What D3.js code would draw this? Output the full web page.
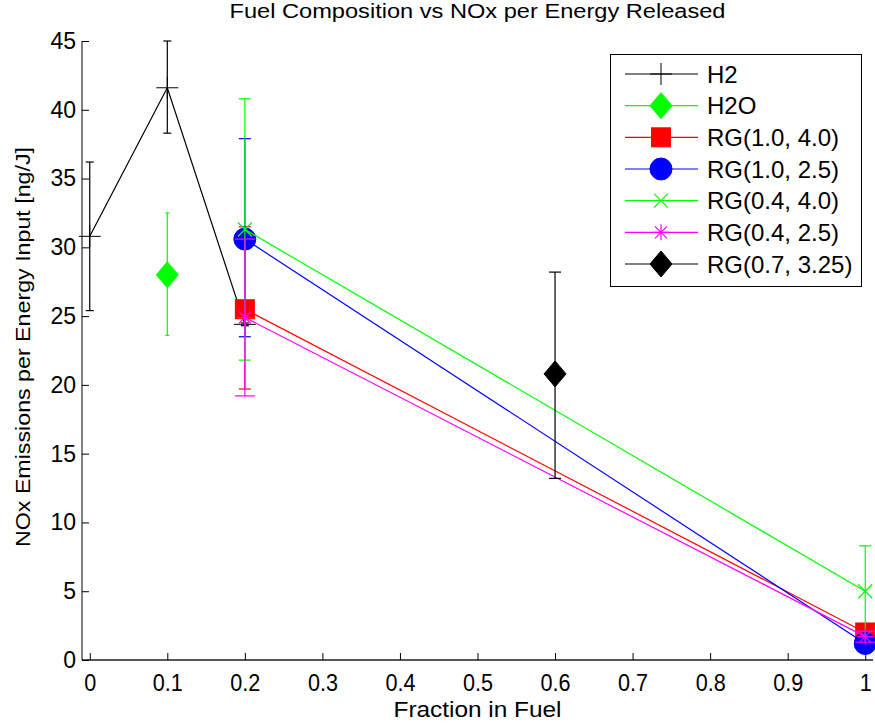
<!DOCTYPE html>
<html>
<head>
<meta charset="utf-8">
<script src="https://cdn.jsdelivr.net/npm/d3@7"></script>
<style>
  body { margin: 0; background: #fff; }
  svg { font-family: "Liberation Sans", Arial, sans-serif; }
</style>
</head>
<body>
<svg id="chart" width="875" height="725"></svg>
<script>
// Datos
const xTicks = [0, 0.1, 0.2, 0.3, 0.4, 0.5, 0.6, 0.7, 0.8, 0.9, 1];
const yTicks = [0, 5, 10, 15, 20, 25, 30, 35, 40, 45];

const h2X = [0, 0.1, 0.2];
const h2Y = [30.8, 41.6, 24.4];
const h2Lo = [25.4, 38.3, 24.3];
const h2Hi = [36.2, 45.0, 24.5];

const h2oX = [0.1];
const h2oY = [28.0];
const h2oLo = [23.6];
const h2oHi = [32.5];

const rg1040X = [0.2, 1];
const rg1040Y = [25.5, 2.0];
const rg1040Lo = [19.7, 1.5];
const rg1040Hi = [31.5, 2.6];

const rg1025X = [0.2, 1];
const rg1025Y = [30.6, 1.2];
const rg1025Lo = [23.5, 0.9];
const rg1025Hi = [37.9, 1.5];

const rg0440X = [0.2, 1];
const rg0440Y = [31.3, 5.0];
const rg0440Lo = [21.8, 1.7];
const rg0440Hi = [40.8, 8.3];

const rg0425X = [0.2, 1];
const rg0425Y = [24.9, 1.7];
const rg0425Lo = [19.2, 1.3];
const rg0425Hi = [30.6, 2.1];

const rg07325X = [0.6];
const rg07325Y = [20.8];
const rg07325Lo = [13.2];
const rg07325Hi = [28.2];

const seriesNames = ['H2', 'H2O', 'RG(1.0, 4.0)', 'RG(1.0, 2.5)', 'RG(0.4, 4.0)', 'RG(0.4, 2.5)', 'RG(0.7, 3.25)'];

const series = [
    { name: seriesNames[0], x: h2X, y: h2Y, lo: h2Lo, hi: h2Hi, color: '#000', marker: 'plus', cap: 8 },
    { name: seriesNames[1], x: h2oX, y: h2oY, lo: h2oLo, hi: h2oHi, color: '#00ff00', marker: 'diamond', cap: 4 },
    { name: seriesNames[2], x: rg1040X, y: rg1040Y, lo: rg1040Lo, hi: rg1040Hi, color: '#ff0000', marker: 'square', cap: 12 },
    { name: seriesNames[3], x: rg1025X, y: rg1025Y, lo: rg1025Lo, hi: rg1025Hi, color: '#0000ff', marker: 'circle', cap: 12 },
    { name: seriesNames[4], x: rg0440X, y: rg0440Y, lo: rg0440Lo, hi: rg0440Hi, color: '#00ff00', marker: 'x', cap: 12 },
    { name: seriesNames[5], x: rg0425X, y: rg0425Y, lo: rg0425Lo, hi: rg0425Hi, color: '#ff00ff', marker: 'star', cap: 20 },
    { name: seriesNames[6], x: rg07325X, y: rg07325Y, lo: rg07325Lo, hi: rg07325Hi, color: '#000', marker: 'diamondFill', cap: 12 }
];

const svg = d3.select('#chart');

const xScale = d3.scaleLinear().domain([-0.01, 1.01]).range([82, 873]);
const yScale = d3.scaleLinear().domain([0, 45]).range([660, 41]);

// Ejes
const xAxis = svg.append('g')
    .attr('transform', `translate(0,${yScale(0)})`)
    .call(d3.axisBottom(xScale).tickValues(xTicks).tickSize(-7).tickPadding(14).tickFormat(d3.format('')))
    .attr('font-size', 24)
    .attr('font-family', '"Liberation Sans", Arial, sans-serif');
xAxis.select('.domain').attr('d', `M${xScale.range()[0]},0H${xScale.range()[1]}`)
    .attr('stroke', '#555').attr('stroke-width', 2);
xAxis.selectAll('.tick line').attr('stroke', '#000');
xAxis.selectAll('.tick text')
    .attr('fill', '#000')
    .attr('transform', 'scale(0.9,1)');

const yAxis = svg.append('g')
    .attr('transform', `translate(${xScale.range()[0]},0)`)
    .call(d3.axisLeft(yScale).tickValues(yTicks).tickSize(-7).tickPadding(6))
    .attr('font-size', 23)
    .attr('font-family', '"Liberation Sans", Arial, sans-serif');
yAxis.select('.domain').attr('d', `M0,${yScale.range()[0]}V${yScale.range()[1]}`).attr('stroke', '#000');
yAxis.selectAll('.tick line').attr('stroke', '#000');
yAxis.selectAll('.tick text').attr('fill', '#000');

// Título y etiquetas
const axisMid = (xScale.range()[0] + xScale.range()[1]) / 2;

svg.append('text')
    .attr('x', axisMid).attr('y', 18)
    .attr('text-anchor', 'middle')
    .attr('font-size', 20)
    .attr('textLength', 496).attr('lengthAdjust', 'spacingAndGlyphs')
    .text('Fuel Composition vs NOx per Energy Released');

svg.append('text')
    .attr('x', axisMid).attr('y', 717)
    .attr('text-anchor', 'middle')
    .attr('font-size', 22)
    .attr('textLength', 168).attr('lengthAdjust', 'spacingAndGlyphs')
    .text('Fraction in Fuel');

svg.append('text')
    .attr('transform', 'translate(30,347) rotate(-90)')
    .attr('text-anchor', 'middle')
    .attr('font-size', 21)
    .attr('textLength', 400).attr('lengthAdjust', 'spacingAndGlyphs')
    .text('NOx Emissions per Energy Input [ng/J]');

// Dibuja un marcador en (cx, cy)
function drawMarker(g, type, cx, cy, color) {
    const m = g.append('g').attr('transform', `translate(${cx},${cy})`);
    if (type === 'plus') {
        m.append('path').attr('d', 'M-11,0H11M0,-11V11').attr('stroke', color).attr('stroke-width', 1);
    } else if (type === 'diamond' || type === 'diamondFill') {
        m.append('path').attr('d', 'M0,-13L11,0L0,13L-11,0Z').attr('fill', color).attr('stroke', color);
    } else if (type === 'square') {
        m.append('rect').attr('x', -9.5).attr('y', -9.5).attr('width', 19).attr('height', 19)
            .attr('fill', color).attr('stroke', color);
    } else if (type === 'circle') {
        m.append('circle').attr('r', 11).attr('fill', color).attr('stroke', color);
    } else if (type === 'x') {
        m.append('path').attr('d', 'M-7,-7L7,7M-7,7L7,-7').attr('stroke', color).attr('stroke-width', 1.2);
    } else if (type === 'star') {
        m.append('path').attr('d', 'M-8,0H8M0,-8V8M-6,-6L6,6M-6,6L6,-6').attr('stroke', color).attr('stroke-width', 1.2);
    }
}

const line = d3.line().x(d => xScale(d[0])).y(d => yScale(d[1]));

series.forEach(s => {
    const g = svg.append('g');
    // barras de error
    s.x.forEach((xv, i) => {
        const px = xScale(xv);
        g.append('line').attr('x1', px).attr('x2', px)
            .attr('y1', yScale(s.lo[i])).attr('y2', yScale(s.hi[i]))
            .attr('stroke', s.color).attr('stroke-width', 1.2);
        [s.lo[i], s.hi[i]].forEach(v => {
            g.append('line').attr('x1', px - s.cap / 2).attr('x2', px + s.cap / 2)
                .attr('y1', yScale(v)).attr('y2', yScale(v))
                .attr('stroke', s.color).attr('stroke-width', 1.2);
        });
    });
    // línea
    if (s.x.length > 1) {
        g.append('path')
            .datum(s.x.map((xv, i) => [xv, s.y[i]]))
            .attr('d', line)
            .attr('fill', 'none')
            .attr('stroke', s.color)
            .attr('stroke-width', 1.2);
    }
    // marcadores
    s.x.forEach((xv, i) => drawMarker(g, s.marker, xScale(xv), yScale(s.y[i]), s.color));
});

// Leyenda
const legend = svg.append('g');
legend.append('rect')
    .attr('x', 610.5).attr('y', 54.5).attr('width', 251).attr('height', 232)
    .attr('fill', '#fff').attr('stroke', '#000');

const legendY = d3.scalePoint().domain(seriesNames).range([74, 264]);

series.forEach(s => {
    const ly = legendY(s.name);
    legend.append('line').attr('x1', 625).attr('x2', 698).attr('y1', ly).attr('y2', ly)
        .attr('stroke', s.color).attr('stroke-width', 1.2);
    drawMarker(legend, s.marker, 661, ly, s.color);
    legend.append('text')
        .attr('x', 707).attr('y', ly + 8.5)
        .attr('font-size', 24)
        .text(s.name);
});
</script>
</body>
</html>
